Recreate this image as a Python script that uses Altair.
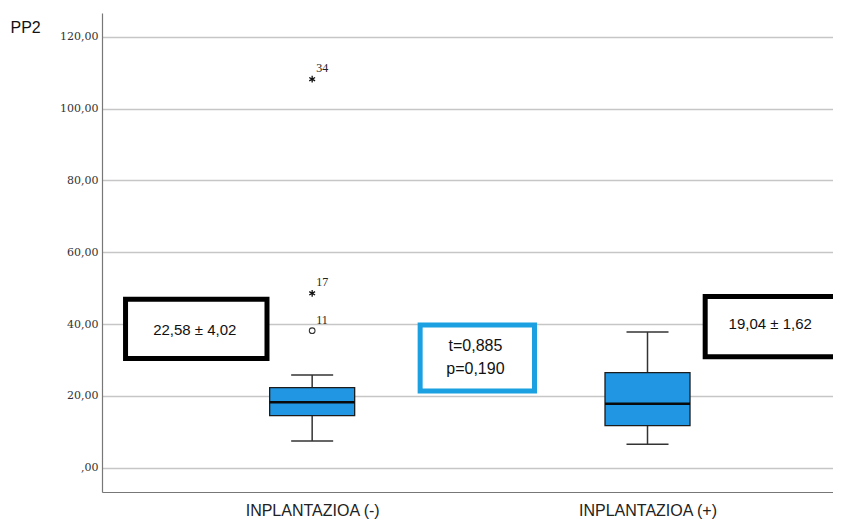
import json
import altair as alt
import pandas as pd

# ---------------- data ----------------
groups = ["INPLANTAZIOA (-)", "INPLANTAZIOA (+)"]
positions = [0, 1]
lower_whisker = [7.4, 6.5]
q1 = [14.5, 11.7]
median = [18.2, 17.8]
q3 = [22.3, 26.5]
upper_whisker = [25.8, 37.8]

outlier_pos = [0, 0, 0]
outlier_val = [38.15, 48.57, 108.2]
outlier_id = ["11", "17", "34"]
outlier_kind = ["circle", "star", "star"]

# annotation boxes (data units)
ann_x1 = [-0.5565, 0.322, 1.172]
ann_x2 = [-0.1347, 0.663, 1.80]
ann_y1 = [30.41, 21.36, 30.88]
ann_y2 = [46.92, 39.74, 47.68]
ann_stroke = ["#000000", "#1ba1e2", "#000000"]

# mean ± SE texts
ms_text = ["22,58 ± 4,02", "19,04 ± 1,62"]
ms_x = [-0.35, 1.366]
ms_y = [38.35, 40.0]
# test texts
tp_text = ["t=0,885", "p=0,190"]
tp_x = [0.4868, 0.4868]
tp_y = [33.8, 27.6]

y_ticks = [0, 20, 40, 60, 80, 100, 120]

# ---------------- frames ----------------
box_df = pd.DataFrame({"pos": positions, "group": groups, "lo": lower_whisker,
                       "q1": q1, "med": median, "q3": q3, "hi": upper_whisker})
out_df = pd.DataFrame({"pos": outlier_pos, "val": outlier_val,
                       "id": outlier_id, "kind": outlier_kind})
rect_df = pd.DataFrame({"x1": ann_x1, "x2": ann_x2, "y1": ann_y1,
                        "y2": ann_y2, "stroke": ann_stroke})
ms_df = pd.DataFrame({"x": ms_x, "y": ms_y, "t": ms_text})
tp_df = pd.DataFrame({"x": tp_x, "y": tp_y, "t": tp_text})

W = 731
xscale = alt.Scale(domain=[-0.6118, (W - 208) / 340], nice=False, zero=False)
yscale = alt.Scale(domain=[-6.77, 126.62], nice=False, zero=False)

xaxis = alt.Axis(values=positions, labelExpr=f"{json.dumps(groups)}[datum.value]",
                 title=None, grid=False, ticks=False, tickSize=0,
                 labelFont="Liberation Sans", labelFontSize=16, labelColor="#222222",
                 labelPadding=10, labelBaseline="top",
                 domainColor="#777777", domainWidth=1.2)
yaxis = alt.Axis(values=y_ticks,
                 labelExpr="datum.value == 0 ? ',00' : replace(format(datum.value, '.2f'), '.', ',')",
                 title="PP2", titleAngle=0, titleAlign="left", titleBaseline="alphabetic",
                 titleX=-92, titleY=19, titleFont="Liberation Sans", titleFontSize=16,
                 titleFontWeight="normal", titleColor="#111111",
                 grid=True, gridColor="#c6c6c6", gridWidth=1.5,
                 ticks=False, tickSize=0, labelPadding=4,
                 labelFont="DejaVu Serif", labelFontSize=11, labelColor="#333333",
                 domainColor="#777777", domainWidth=1.2)


def X(f):
    return alt.X(f, scale=xscale, axis=xaxis)


def Y(f):
    return alt.Y(f, scale=yscale, axis=yaxis)


rects = alt.Chart(rect_df).mark_rect(fill="white", strokeWidth=5).encode(
    x=X("x1:Q"), x2="x2:Q", y=Y("y1:Q"), y2="y2:Q",
    stroke=alt.Stroke("stroke:N", scale=None),
)

whisk = alt.Chart(box_df).mark_rule(color="#333333", strokeWidth=1.5).encode(
    x=X("pos:Q"), y=Y("lo:Q"), y2="hi:Q")

cap_lo = alt.Chart(box_df).mark_tick(orient="horizontal", size=42, thickness=1.5,
                                     color="#333333", opacity=1).encode(
    x=X("pos:Q"), y=Y("lo:Q"))
cap_hi = alt.Chart(box_df).mark_tick(orient="horizontal", size=42, thickness=1.5,
                                     color="#333333", opacity=1).encode(
    x=X("pos:Q"), y=Y("hi:Q"))

box = alt.Chart(box_df).mark_bar(size=85, fill="#2196e3", stroke="#1c1c1c",
                                 strokeWidth=1.3).encode(
    x=X("pos:Q"), y=Y("q1:Q"), y2="q3:Q")

med = alt.Chart(box_df).mark_tick(orient="horizontal", size=85, thickness=2.5,
                                  color="#0a0a0a", opacity=1).encode(
    x=X("pos:Q"), y=Y("med:Q"))

asterisk = "M0,-1L0,1M-0.87,-0.5L0.87,0.5M-0.87,0.5L0.87,-0.5"

circ = alt.Chart(out_df).transform_filter("datum.kind == 'circle'").mark_point(
    shape="circle", size=32, filled=False, stroke="#333333", strokeWidth=1.1, opacity=1).encode(
    x=X("pos:Q"), y=Y("val:Q"))

stars = alt.Chart(out_df).transform_filter("datum.kind == 'star'").mark_point(
    shape=asterisk, size=45, filled=False, stroke="#111111", strokeWidth=1.3, opacity=1).encode(
    x=X("pos:Q"), y=Y("val:Q"))

out_lbl = alt.Chart(out_df).mark_text(align="left", baseline="alphabetic", dx=4, dy=-7,
                                      font="Liberation Serif", fontSize=12,
                                      color="#222222").encode(
    x=X("pos:Q"), y=Y("val:Q"), text="id:N")

ms = alt.Chart(ms_df).mark_text(font="Liberation Sans", fontSize=15, color="#111111",
                                baseline="middle", align="center").encode(
    x=X("x:Q"), y=Y("y:Q"), text="t:N")

tp = alt.Chart(tp_df).mark_text(font="Liberation Sans", fontSize=16, color="#111111",
                                baseline="middle", align="center").encode(
    x=X("x:Q"), y=Y("y:Q"), text="t:N")

chart = alt.layer(rects, whisk, cap_lo, cap_hi, box, med, circ, stars, out_lbl, ms, tp).properties(
    width=W, height=479,
    autosize=alt.AutoSizeParams(type="none"),
    padding={"left": 94, "top": 5, "right": 0, "bottom": 30},
    background="white",
).configure_view(stroke=None)

chart.save("out.html", embed_options={"renderer": "svg", "actions": False})
